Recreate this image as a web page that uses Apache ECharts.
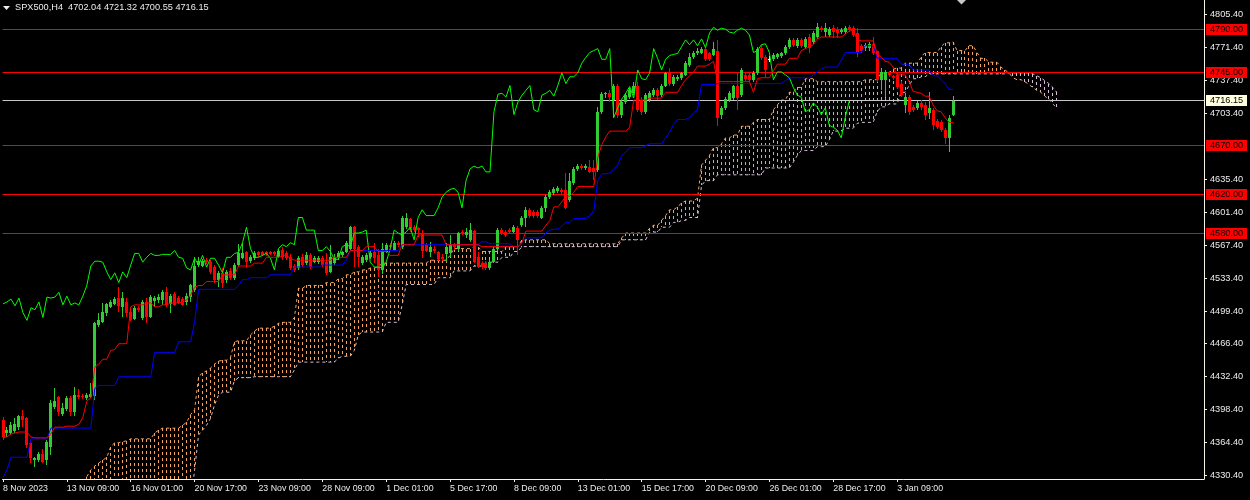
<!DOCTYPE html>
<html><head><meta charset="utf-8">
<script src="https://cdn.jsdelivr.net/npm/echarts@6.0.0/dist/echarts.min.js"></script>
<style>html,body{margin:0;padding:0;background:#000;}#chart{width:1250px;height:500px;}</style>
</head><body><div id="chart"></div>
<script>
const symbolName = 'SPX500';
const timeframe = 'H4';
const xTickBars = [0,16,32,48,64,80,96,112,128,144,160,176,192,208,224];
const xTickLabels = ['8 Nov 2023','13 Nov 09:00','16 Nov 01:00','20 Nov 17:00','23 Nov 09:00','28 Nov 09:00','1 Dec 01:00','5 Dec 17:00','8 Dec 09:00','13 Dec 01:00','15 Dec 17:00','20 Dec 09:00','26 Dec 01:00','28 Dec 17:00','3 Jan 09:00'];
const yTickLabels = ['4805.40','4771.40','4737.40','4703.40','4635.40','4601.40','4567.40','4533.40','4499.40','4466.40','4432.40','4398.40','4364.40','4330.40'];
const levelLines = [4790.00, 4745.00, 4670.00, 4620.00, 4580.00];

const opens = [
4387,4374,4374,4376,4380,4392,4389,4364,4346,4346,
4352,4346,4360,4401,4411,4394,4399,4410,4396,4413,
4412,4410,4411,4412,4485,4488,4498,4504,4507,4513,
4504,4509,4499,4491,4503,4492,4509,4493,4510,4511,
4511,4519,4507,4517,4513,4512,4509,4514,4521,4547,
4546,4552,4550,4545,4532,4539,4532,4541,4534,4547,
4554,4560,4551,4554,4560,4560,4560,4560,4560,4555,
4563,4559,4555,4546,4544,4555,4549,4557,4550,4550,
4554,4550,4540,4549,4554,4557,4560,4564,4586,4566,
4549,4552,4555,4560,4557,4542,4560,4568,4563,4570,
4566,4586,4594,4586,4585,4580,4568,4560,4564,4560,
4555,4558,4559,4568,4564,4581,4578,4573,4582,4555,
4549,4549,4544,4550,4564,4583,4581,4583,4581,4585,
4588,4595,4604,4602,4602,4596,4606,4617,4621,4623,
4624,4624,4614,4632,4646,4649,4647,4648,4647,4645,
4705,4723,4724,4717,4732,4702,4715,4720,4724,4732,
4717,4705,4717,4722,4727,4722,4732,4745,4734,4739,
4740,4743,4753,4761,4765,4766,4770,4765,4763,4768,
4702,4709,4717,4719,4731,4722,4743,4743,4738,4745,
4771,4761,4759,4759,4761,4762,4765,4772,4779,4773,
4779,4772,4782,4777,4782,4791,4787,4784,4791,4790,
4787,4787,4792,4791,4786,4773,4771,4771,4775,4768,
4738,4738,4745,4742,4743,4734,4712,4720,4710,4709,
4714,4712,4704,4707,4695,4694,4686,4678,4702.04];

const highs = [
4390,4380,4385,4389,4393,4398,4390,4367,4349,4354,
4358,4367,4408,4420,4412,4405,4412,4412,4421,4419,
4414,4415,4426,4488,4498,4508,4508,4511,4514,4524,
4519,4513,4504,4505,4505,4511,4513,4516,4515,4517,
4521,4524,4517,4519,4515,4514,4518,4528,4555,4555,
4553,4554,4552,4547,4541,4544,4542,4544,4549,4569,
4570,4562,4557,4561,4562,4562,4561,4561,4562,4564,
4566,4561,4558,4548,4556,4558,4560,4559,4556,4556,
4556,4559,4568,4558,4561,4562,4572,4587,4587,4568,
4557,4559,4561,4570,4564,4570,4570,4570,4572,4572,
4598,4601,4596,4588,4586,4583,4570,4571,4567,4562,
4558,4570,4578,4570,4581,4583,4585,4590,4583,4560,
4551,4551,4552,4566,4585,4585,4583,4585,4588,4587,
4598,4607,4606,4604,4604,4608,4619,4624,4627,4628,
4626,4642,4642,4648,4651,4651,4651,4655,4655,4710,
4725,4725,4727,4734,4734,4717,4724,4729,4736,4736,
4720,4724,4726,4729,4729,4734,4746,4750,4743,4743,
4746,4757,4765,4768,4771,4772,4771,4767,4777,4779,
4711,4720,4726,4733,4745,4750,4745,4745,4747,4772,
4774,4763,4762,4765,4766,4767,4774,4781,4781,4781,
4781,4782,4785,4788,4796,4793,4796,4792,4794,4792,
4791,4793,4794,4793,4791,4775,4776,4777,4782,4768,
4750,4748,4747,4743,4745,4737,4724,4722,4712,4716,
4717,4715,4725,4709,4697,4696,4688,4702,4721.32];

const lows = [
4367,4370,4372,4374,4377,4380,4359,4343,4339,4344,
4343,4341,4351,4399,4392,4391,4397,4391,4391,4409,
4409,4408,4410,4408,4483,4487,4495,4503,4506,4499,
4493,4493,4489,4490,4499,4490,4487,4492,4504,4508,
4506,4504,4498,4505,4507,4505,4506,4509,4519,4545,
4545,4548,4538,4529,4524,4523,4529,4532,4532,4545,
4553,4544,4549,4552,4555,4556,4556,4557,4556,4554,
4552,4552,4542,4540,4542,4545,4547,4543,4549,4548,
4545,4537,4539,4547,4552,4555,4559,4563,4545,4545,
4547,4550,4553,4549,4535,4538,4559,4563,4562,4566,
4564,4584,4581,4581,4576,4554,4560,4555,4559,4551,
4551,4550,4555,4563,4562,4578,4575,4571,4549,4544,
4543,4542,4542,4549,4562,4578,4576,4579,4580,4557,
4586,4586,4596,4596,4596,4594,4602,4615,4619,4621,
4620,4605,4612,4630,4644,4645,4645,4642,4635,4643,
4703,4719,4715,4699,4699,4699,4713,4718,4722,4705,
4702,4703,4715,4720,4717,4720,4730,4732,4732,4737,
4738,4742,4751,4759,4763,4764,4757,4757,4762,4690,
4698,4707,4715,4717,4707,4720,4737,4736,4736,4743,
4758,4740,4756,4757,4759,4760,4763,4770,4772,4771,
4771,4770,4766,4775,4780,4787,4782,4782,4781,4781,
4785,4785,4787,4782,4761,4766,4768,4768,4763,4736,
4727,4720,4741,4738,4728,4720,4704,4702,4705,4707,
4707,4696,4698,4686,4687,4684,4672,4663,4700.55];

const closes = [
4370,4377,4382,4383,4392,4387,4362,4348,4348,4352,
4344,4365,4405,4407,4396,4400,4410,4396,4413,4411,
4411,4413,4414,4487,4490,4499,4507,4509,4512,4505,
4513,4498,4490,4503,4501,4509,4493,4514,4513,4514,
4519,4506,4515,4506,4508,4506,4515,4526,4546,4551,
4551,4550,4540,4532,4539,4529,4540,4534,4547,4559,
4559,4550,4555,4559,4557,4557,4558,4558,4558,4562,
4555,4554,4544,4542,4554,4547,4557,4545,4554,4554,
4547,4539,4555,4555,4559,4560,4570,4586,4564,4555,
4555,4557,4559,4554,4542,4564,4568,4566,4570,4568,
4596,4596,4583,4583,4583,4562,4562,4566,4561,4553,
4553,4566,4568,4566,4580,4580,4581,4583,4550,4545,
4545,4544,4550,4564,4583,4580,4578,4581,4586,4573,
4596,4604,4598,4598,4598,4606,4617,4622,4625,4626,
4622,4606,4634,4646,4649,4647,4649,4643,4643,4705,
4723,4724,4720,4732,4702,4715,4722,4727,4732,4707,
4705,4722,4724,4727,4721,4732,4745,4734,4741,4741,
4745,4755,4761,4766,4768,4770,4759,4759,4770,4699,
4709,4718,4724,4731,4719,4748,4739,4738,4745,4770,
4760,4748,4759,4763,4764,4765,4772,4779,4774,4779,
4773,4780,4771,4786,4792,4789,4791,4790,4787,4786,
4789,4791,4789,4784,4766,4768,4774,4775,4766,4738,
4746,4746,4743,4740,4730,4722,4720,4705,4707,4714,
4710,4702,4709,4691,4689,4686,4678,4699,4716.15];

const tenkan = [
4369,4370,4373,4374,4375,4375,4375,4370,4369,4369,
4369,4369,4373,4380,4380,4380,4381,4381,4381,4383,
4390,4407,4410,4442,4445,4450,4450,4459,4460,4466,
4466,4466,4504,4506,4506,4506,4508,4508,4504,4504,
4506,4506,4508,4508,4508,4509,4511,4516,4524,4526,
4526,4530,4530,4530,4530,4537,4537,4537,4537,4546,
4546,4546,4546,4549,4549,4549,4555,4555,4555,4555,
4557,4557,4554,4552,4552,4552,4552,4552,4552,4552,
4552,4552,4552,4555,4555,4555,4555,4562,4562,4562,
4562,4566,4566,4566,4561,4561,4561,4557,4557,4557,
4568,4568,4568,4568,4578,4578,4578,4578,4578,4578,
4578,4568,4568,4568,4568,4568,4568,4568,4568,4568,
4566,4566,4566,4566,4566,4566,4566,4566,4566,4566,
4570,4582,4582,4582,4582,4582,4588,4593,4607,4607,
4612,4618,4618,4622,4628,4628,4628,4628,4628,4658,
4671,4679,4685,4685,4685,4685,4685,4689,4717,4717,
4717,4717,4719,4719,4719,4719,4725,4725,4725,4725,
4732,4738,4742,4746,4752,4752,4752,4754,4757,4736,
4736,4736,4736,4736,4736,4736,4736,4736,4725,4739,
4740,4740,4740,4747,4754,4754,4754,4760,4760,4760,
4768,4770,4772,4774,4780,4782,4782,4782,4782,4782,
4782,4785,4788,4789,4779,4778,4778,4778,4778,4765,
4761,4757,4756,4751,4743,4743,4743,4736,4726,4725,
4724,4721,4721,4712,4706,4705,4699,4694,4694];

const kijun = [
4328,4336,4349,4349,4349,4349,4349,4368,4368,4368,
4368,4368,4379,4379,4379,4379,4379,4379,4379,4379,
4379,4379,4379,4420,4423,4423,4423,4423,4423,4432,
4432,4432,4432,4432,4432,4432,4432,4432,4457,4457,
4457,4457,4457,4457,4468,4468,4468,4468,4488,4522,
4522,4522,4522,4522,4522,4522,4522,4522,4522,4526,
4532,4532,4534,4534,4534,4534,4534,4537,4537,4537,
4537,4537,4537,4545,4545,4545,4545,4545,4545,4545,
4547,4547,4547,4547,4547,4547,4552,4562,4562,4562,
4562,4562,4562,4562,4562,4562,4562,4562,4562,4562,
4568,4568,4568,4568,4568,4568,4568,4568,4568,4568,
4568,4568,4568,4568,4568,4568,4568,4568,4568,4568,
4571,4571,4569,4569,4569,4569,4569,4569,4566,4566,
4570,4575,4575,4575,4575,4575,4580,4583,4584,4584,
4587,4591,4591,4595,4595,4595,4595,4598,4603,4634,
4641,4641,4642,4646,4650,4660,4663,4668,4668,4668,
4668,4670,4672,4672,4672,4672,4678,4684,4692,4697,
4697,4697,4699,4704,4707,4733,4733,4733,4733,4734,
4734,4734,4734,4734,4734,4734,4734,4734,4734,4734,
4734,4734,4734,4734,4734,4734,4737,4740,4740,4740,
4740,4740,4740,4743,4746,4749,4751,4751,4751,4751,
4758,4766,4766,4766,4766,4766,4773,4773,4773,4760,
4760,4760,4760,4760,4760,4754,4754,4754,4748,4748,
4748,4748,4748,4742,4742,4738,4734,4728,4728];

const spanA = [
null,null,null,null,null,null,null,null,null,null,
null,null,null,null,null,null,null,null,null,null,
null,4329,4336,4340,4343,4346,4349,4360,4364,4364,
4365,4366,4368,4368,4368,4368,4368,4368,4374,4377,
4379,4379,4379,4379,4379,4382,4385,4393,4398,4432,
4436,4438,4441,4445,4448,4449,4449,4452,4468,4469,
4469,4469,4475,4479,4482,4482,4482,4482,4484,4487,
4488,4488,4488,4493,4523,4523,4526,4526,4526,4526,
4526,4529,4529,4529,4533,4533,4537,4537,4540,4540,
4542,4542,4544,4544,4545,4549,4549,4549,4549,4549,
4549,4549,4549,4549,4549,4549,4549,4552,4552,4552,
4552,4552,4557,4564,4564,4564,4564,4564,4566,4566,
4561,4561,4561,4561,4561,4561,4566,4566,4566,4566,
4573,4573,4573,4573,4573,4573,4573,4569,4569,4569,
4569,4569,4569,4569,4569,4569,4569,4569,4569,4569,
4569,4569,4569,4569,4569,4575,4580,4580,4580,4580,
4580,4580,4585,4588,4588,4593,4598,4604,4604,4607,
4611,4613,4613,4613,4616,4650,4655,4660,4668,4668,
4672,4678,4678,4681,4681,4690,4690,4690,4694,4697,
4697,4697,4697,4707,4712,4717,4717,4725,4725,4730,
4730,4739,4739,4739,4736,4736,4736,4736,4736,4736,
4736,4736,4736,4736,4736,4736,4738,4738,4738,4738,
4745,4745,4745,4749,4750,4750,4755,4755,4755,4755,
4761,4766,4766,4766,4766,4772,4776,4776,4777,4768,
4768,4768,4773,4773,4766,4760,4760,4756,4756,4756,
4751,4748,4745,4740,4738,4738,4736,4733,4730,4727,
4725,4721,4718,4713,4709];

const spanB = [
null,null,null,null,null,null,null,null,null,null,
null,null,null,null,null,null,null,null,null,null,
null,4300,4300,4300,4300,4300,4300,4300,4300,4300,
4300,4300,4300,4300,4300,4300,4300,4300,4300,4300,
4300,4300,4300,4300,4300,4300,4300,4300,4336,4372,
4377,4382,4389,4403,4413,4416,4416,4416,4428,4431,
4431,4431,4431,4432,4432,4432,4432,4432,4432,4432,
4432,4432,4432,4439,4447,4447,4447,4447,4447,4447,
4447,4447,4447,4447,4451,4453,4453,4453,4459,4475,
4478,4478,4478,4478,4478,4478,4488,4488,4488,4488,
4506,4527,4527,4527,4527,4527,4527,4527,4527,4534,
4534,4534,4534,4541,4541,4541,4541,4541,4546,4546,
4546,4550,4550,4550,4550,4555,4555,4555,4561,4561,
4566,4566,4566,4566,4566,4566,4566,4566,4566,4566,
4566,4566,4566,4566,4566,4566,4566,4566,4566,4566,
4566,4566,4566,4566,4566,4573,4573,4573,4573,4573,
4573,4573,4581,4581,4581,4586,4586,4586,4591,4591,
4593,4593,4596,4596,4596,4629,4634,4634,4634,4640,
4640,4640,4640,4640,4640,4640,4640,4640,4640,4640,
4640,4647,4647,4647,4647,4647,4647,4647,4653,4660,
4665,4665,4665,4665,4669,4669,4669,4676,4685,4685,
4685,4688,4688,4688,4693,4694,4694,4694,4694,4705,
4710,4710,4713,4713,4713,4725,4725,4732,4739,4739,
4741,4741,4744,4744,4744,4744,4744,4744,4744,4744,
4744,4744,4744,4744,4744,4744,4744,4744,4744,4744,
4744,4744,4745,4745,4745,4745,4745,4745,4744,4742,
4740,4737,4734,4730,4725];

const chikouShift = 26;

const FONT = "'Liberation Sans',Arial,sans-serif";
const FG = '#ececec';
const AXIS = '#f4f4e4';
const BULL = '#32cd32', BEAR = '#ff0000', DOJI = '#ffffff';
const TENKAN = '#ff0000', KIJUN = '#0000ff', CHIKOU = '#00ff00';
const KUMO_UP = '#f4a460', KUMO_DN = '#d8bfd8';

const last = closes.length - 1;
const bid = closes[last];

const candleData = opens.map((o, i) => [i, o, highs[i], lows[i], closes[i]]);
const kumoIdx = [];
spanA.forEach((a, i) => { if (a != null && spanB[i] != null) kumoIdx.push(i); });
const kumoUpData = kumoIdx.filter(i => spanA[i] >= spanB[i]).map(i => [i, spanA[i], spanB[i]]);
const kumoDnData = kumoIdx.filter(i => spanA[i] < spanB[i]).map(i => [i, spanA[i], spanB[i]]);
const lineData = arr => arr.map((v, i) => [i, v]).filter(d => d[1] != null);
const chikouData = closes.map((c, i) => [i - chikouShift, c]).filter(d => d[0] >= 0);

const levelData = levelLines.map(v => [0, v, 0]);
levelData.push([0, bid, 1]);

function renderCandle(params, api) {
  const d = candleData[params.dataIndex];
  const i = d[0], o = d[1], h = d[2], l = d[3], c = d[4];
  const po = api.coord([i, o]), pc = api.coord([i, c]), ph = api.coord([i, h]), pl = api.coord([i, l]);
  const col = Math.floor(po[0]);
  const color = c > o ? BULL : (c < o ? BEAR : DOJI);
  const yTop = Math.round(Math.min(po[1], pc[1])), yBot = Math.round(Math.max(po[1], pc[1]));
  const yH = Math.round(ph[1]), yL = Math.round(pl[1]);
  return {type: 'group', children: [
    {type: 'rect', shape: {x: col, y: yH, width: 1, height: Math.max(1, yL - yH)}, style: {fill: color}},
    {type: 'rect', shape: {x: col - 1, y: yTop, width: 3, height: Math.max(1, yBot - yTop)}, style: {fill: color}}
  ]};
}

function makeKumoRenderer(dataArr, color) {
  return function (params, api) {
    const cs = params.coordSys;
    const d = dataArr[params.dataIndex];
    const pa = api.coord([d[0], d[1]]), pb = api.coord([d[0], d[2]]);
    const col = Math.floor(pa[0]);
    const bottom = cs.y + cs.height;
    const y1 = Math.max(cs.y, Math.round(Math.min(pa[1], pb[1])));
    const y2 = Math.min(bottom, Math.round(Math.max(pa[1], pb[1])));
    const children = [];
    for (let y = y1; y < y2; y += 6) {
      children.push({type: 'rect', shape: {x: col, y: y, width: 1, height: Math.min(3, y2 - y)},
        style: {fill: color}});
    }
    return {type: 'group', children: children};
  };
}

function renderLevel(params, api) {
  const cs = params.coordSys;
  const d = levelData[params.dataIndex];
  const isBid = d[2] === 1;
  const row = Math.floor(api.coord([0, d[1]])[1]);
  const right = cs.x + cs.width;
  const lineColor = isBid ? '#c8c8c8' : '#ff0000';
  const boxColor = isBid ? '#ffffe0' : '#ff0000';
  return {type: 'group', children: [
    {type: 'rect', shape: {x: cs.x, y: row, width: cs.width, height: 1}, style: {fill: lineColor}},
    {type: 'rect', shape: {x: right + 2, y: row - 5, width: 41, height: 11}, style: {fill: boxColor}},
    {type: 'text', x: right + 6, y: row + 0.5, style: {text: d[1].toFixed(2), fill: '#000000',
      font: '9.2px ' + FONT, verticalAlign: 'middle', align: 'left'}}
  ]};
}

const chart = echarts.init(document.getElementById('chart'));
chart.setOption({
  backgroundColor: '#000000',
  animation: false,
  hoverLayerThreshold: Infinity,
  grid: {left: 0, right: 46, top: 0, bottom: 21, containLabel: false},
  xAxis: {
    type: 'value', min: -0.125, max: 300.875,
    axisLine: {show: true, onZero: false, lineStyle: {color: AXIS, width: 1}},
    axisTick: {show: true, customValues: xTickBars, length: 3, lineStyle: {color: AXIS}},
    axisLabel: {customValues: xTickBars, formatter: v => xTickLabels[xTickBars.indexOf(Math.round(v))] || '',
      align: 'left', color: FG, fontSize: 8.8, fontFamily: FONT, margin: 5},
    splitLine: {show: false}
  },
  yAxis: {
    type: 'value', position: 'right', min: 4326.6, max: 4820.1, scale: true,
    axisLine: {show: true, onZero: false, lineStyle: {color: AXIS, width: 1}},
    axisTick: {show: true, customValues: yTickLabels.map(Number), length: 3, lineStyle: {color: AXIS}},
    axisLabel: {customValues: yTickLabels.map(Number), formatter: v => v.toFixed(2),
      color: FG, fontSize: 9.2, fontFamily: FONT, margin: 6},
    splitLine: {show: false}
  },
  series: [
    {type: 'custom', name: 'kumoUp', renderItem: makeKumoRenderer(kumoUpData, KUMO_UP), data: kumoUpData,
      z: 1, silent: true, itemStyle: {color: KUMO_UP}, emphasis: {disabled: true}, encode: {x: 0, y: [1, 2]}},
    {type: 'custom', name: 'kumoDn', renderItem: makeKumoRenderer(kumoDnData, KUMO_DN), data: kumoDnData,
      z: 1, silent: true, itemStyle: {color: KUMO_DN}, emphasis: {disabled: true}, encode: {x: 0, y: [1, 2]}},
    {type: 'line', name: 'spanB', data: lineData(spanB), showSymbol: false, silent: true, z: 2,
      lineStyle: {color: KUMO_DN, width: 1, type: [3, 3]}},
    {type: 'line', name: 'spanA', data: lineData(spanA), showSymbol: false, silent: true, z: 2,
      lineStyle: {color: KUMO_UP, width: 1, type: [3, 3]}},
    {type: 'custom', name: 'levels', renderItem: renderLevel, data: levelData, z: 3, silent: true,
      encode: {x: 0, y: 1}},
    {type: 'custom', name: 'candles', renderItem: renderCandle, data: candleData, z: 4, silent: true,
      encode: {x: 0, y: [1, 2, 3, 4]}},
    {type: 'line', name: 'chikou', data: chikouData, showSymbol: false, silent: true, z: 5,
      lineStyle: {color: CHIKOU, width: 1}},
    {type: 'line', name: 'kijun', data: lineData(kijun), showSymbol: false, silent: true, z: 5,
      lineStyle: {color: KIJUN, width: 1}},
    {type: 'line', name: 'tenkan', data: lineData(tenkan), showSymbol: false, silent: true, z: 6,
      lineStyle: {color: TENKAN, width: 1}}
  ],
  graphic: [
    {type: 'polygon', shape: {points: [[3, 6], [10, 6], [6.5, 10]]}, style: {fill: FG}, silent: true},
    {type: 'text', left: 15, top: 3, style: {
      text: symbolName + ',' + timeframe + '  ' + [opens[last], highs[last], lows[last], closes[last]].map(v => v.toFixed(2)).join(' '),
      fill: FG, font: '9.2px ' + FONT}, silent: true},
    {type: 'polygon', shape: {points: [[957, 0], [966, 0], [961.5, 4.5]]}, style: {fill: '#c8c8c8'}, silent: true}
  ]
});
</script></body></html>
